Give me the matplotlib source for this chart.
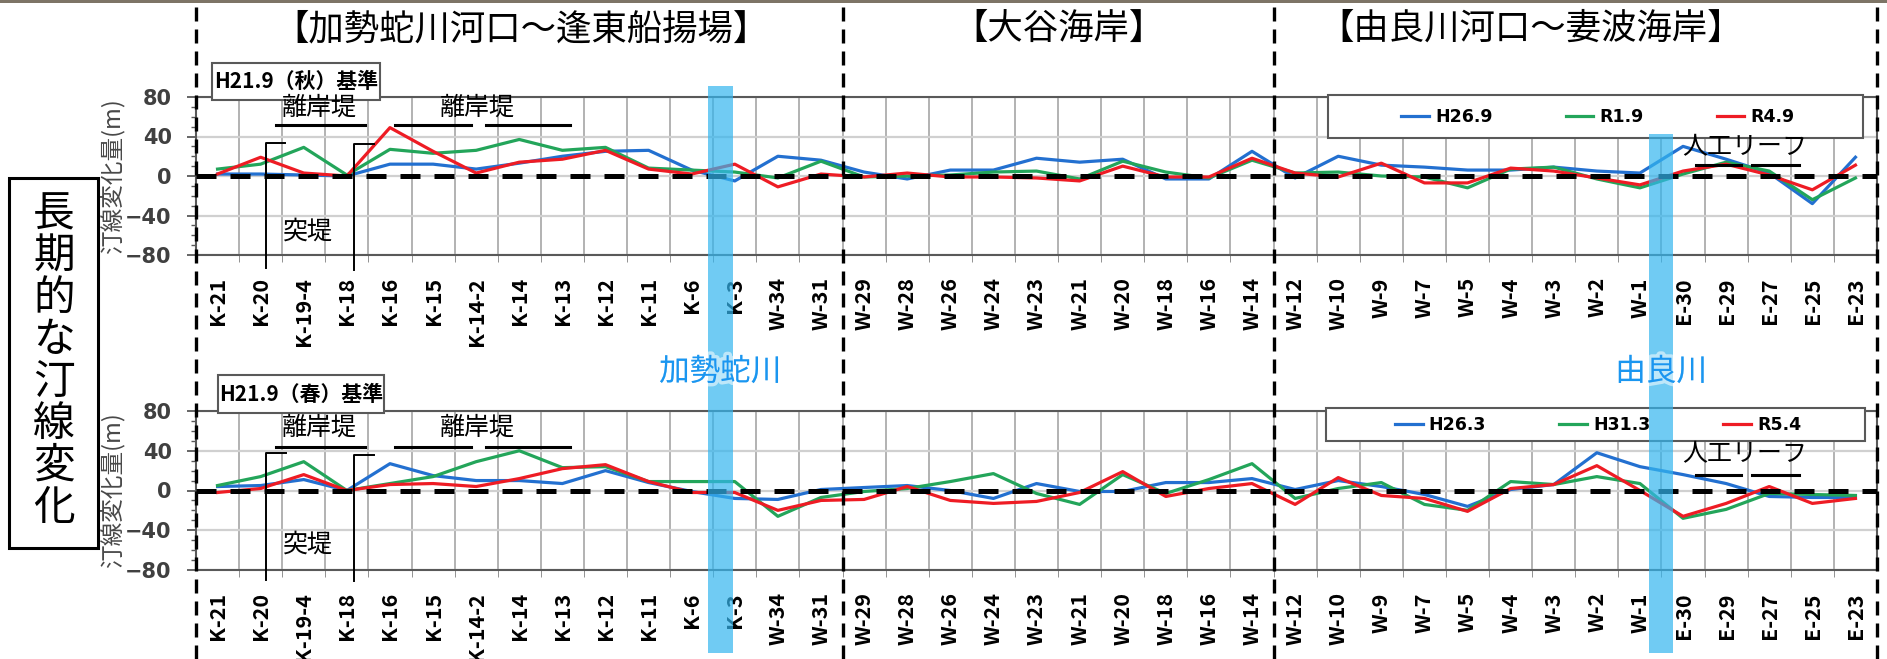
import numpy as np
import matplotlib.pyplot as plt
import matplotlib.patheffects as pe
from matplotlib import transforms
from matplotlib.lines import Line2D
from matplotlib.patches import Rectangle

plt.rcParams['font.family'] = ['Noto Sans CJK JP', 'DejaVu Sans']

# 測線名
points = ['K-21', 'K-20', 'K-19-4', 'K-18', 'K-16', 'K-15', 'K-14-2', 'K-14', 'K-13',
          'K-12', 'K-11', 'K-6', 'K-3', 'W-34', 'W-31', 'W-29', 'W-28', 'W-26', 'W-24',
          'W-23', 'W-21', 'W-20', 'W-18', 'W-16', 'W-14', 'W-12', 'W-10', 'W-9', 'W-7',
          'W-5', 'W-4', 'W-3', 'W-2', 'W-1', 'E-30', 'E-29', 'E-27', 'E-25', 'E-23']

# 秋基準 (H21.9)
aki_labels = ['H26.9', 'R1.9', 'R4.9']
aki_h26 = [2, 2, 1, 0, 12, 12, 7, 13, 20, 25, 26, 6, -5, 20, 16, 4, -3, 6, 6, 18,
           14, 17, -3, -3, 25, -2, 20, 11, 9, 6, 6, 9, 5, 3, 30, 17, 3, -28, 19]
aki_r1 = [7, 12, 29, 1, 27, 23, 26, 37, 26, 29, 8, 6, 4, -2, 15, -1, 0, 1, 4, 5,
          -3, 15, 4, -2, 16, 3, 4, 0, -1, -12, 7, 9, -3, -12, 2, 14, 5, -24, -2]
aki_r4 = [2, 19, 3, 0, 49, 25, 3, 14, 17, 26, 7, 2, 12, -11, 2, -1, 3, -1, -1, -2,
          -5, 10, -1, -1, 18, 3, -1, 13, -7, -7, 8, 5, -2, -9, 5, 12, 1, -14, 11]

# 春基準 (H21.9)
haru_labels = ['H26.3', 'H31.3', 'R5.4']
haru_h26 = [4, 5, 11, 0, 27, 15, 10, 10, 7, 20, 8, -1, -8, -9, 1, 3, 5, 0, -8, 7,
            -1, -1, 8, 8, 12, 1, 10, 4, -4, -16, 1, 6, 38, 24, 16, 7, -6, -7, -7]
haru_h31 = [5, 14, 29, 0, 7, 14, 29, 40, 23, 24, 9, 9, 9, -26, -7, -1, 2, 9, 17, -3,
            -14, 16, -3, 11, 27, -8, 2, 8, -14, -20, 9, 6, 14, 7, -28, -19, -3, -4, -5]
haru_r5 = [-2, 2, 16, 0, 6, 7, 4, 12, 22, 26, 9, -2, -2, -20, -10, -9, 4, -10, -13, -11,
           -2, 19, -6, 2, 7, -14, 13, -5, -8, -21, 2, 6, 25, 0, -26, -13, 4, -13, -8]

colors = ['#2370d0', '#23a55a', '#ee1c24']

W, H = 1887, 659
fig = plt.figure(figsize=(W / 100, H / 100), dpi=100)


def fx(px):
    return px / W


def fy(py):
    return 1 - py / H


ax_top = fig.add_axes([fx(196), fy(255), (1877 - 196) / W, 158 / H])
ax_bot = fig.add_axes([fx(196), fy(570), (1877 - 196) / W, 159 / H])


def draw_panel(ax, series, labels, base_text, base_box, leg_xy, ann):
    x = np.arange(len(points))
    for vals, lab, col in zip(series, labels, colors):
        ax.plot(x, vals, color=col, lw=2.3, label=lab, zorder=3)
    ax.axhline(0, color='black', lw=3.6, ls=(0, (4, 2.8)), zorder=4)

    ax.set_xlim(-0.5, len(points) - 0.5)
    ax.set_ylim(-80, 80)
    ax.set_yticks([-80, -40, 0, 40, 80])
    ax.set_yticks(np.arange(-80, 81, 10), minor=True)
    ax.set_xticks(x)
    ax.set_xticklabels(points, rotation=90, fontsize=15.5, fontweight='bold')
    ax.set_xticks(x[:-1] + 0.5, minor=True)
    ax.grid(which='minor', axis='x', color='#a6a6a6', lw=1.2)
    ax.grid(which='major', axis='y', color='#d0d0d0', lw=1.6)
    ax.tick_params(axis='x', which='major', length=0, pad=16)
    ax.tick_params(axis='x', which='minor', length=5, color='#808080')
    ax.tick_params(axis='y', which='major', length=6.5, width=1.3, color='#595959',
                   pad=11, labelsize=15, labelcolor='#404040')
    ax.tick_params(axis='y', which='minor', length=3.5, width=1, color='#595959')
    for t in ax.get_yticklabels():
        t.set_fontfamily('DejaVu Sans')
        t.set_fontweight('bold')
    for s in ax.spines.values():
        s.set_color('#595959')
        s.set_linewidth(1.5)

    ax.set_ylabel('汀線変化量(m)', fontsize=17, color='#484848', va='center')
    ax.yaxis.set_label_coords(-0.050, 0.5)

    # 基準時期の枠
    bx0, by0, bx1, by1 = base_box
    ax.add_patch(Rectangle((bx0, by0), bx1 - bx0, by1 - by0, transform=ax.transAxes,
                           fc='white', ec='#595959', lw=1.5, clip_on=False, zorder=6))
    ax.text((bx0 + bx1) / 2, (by0 + by1) / 2, base_text, transform=ax.transAxes,
            ha='center', va='center', fontsize=15, fontweight='bold', zorder=7)

    # 凡例
    lx0, ly0, lx1, ly1 = leg_xy[0]
    ax.add_patch(Rectangle((lx0, ly0), lx1 - lx0, ly1 - ly0, transform=ax.transAxes,
                           fc='white', ec='#595959', lw=1.5, clip_on=False, zorder=5))
    leg = ax.legend(loc='center', bbox_to_anchor=leg_xy[1], ncol=3, frameon=False,
                    handlelength=1.6, handletextpad=0.35, columnspacing=4.2,
                    borderaxespad=0,
                    prop={'family': 'DejaVu Sans', 'weight': 'bold', 'size': 12.5})
    leg.set_zorder(6)

    # 構造物の注記
    for tx, ty in ann['rigan']:
        ax.text(tx, ty, '離岸堤', ha='center', va='center', fontsize=18, zorder=6)
    for u0, u1 in [(1.36, 3.42), (4.12, 5.88), (6.23, 8.18)]:
        ax.plot([u0, u1], [ann['rigan_line']] * 2, color='black', lw=2.2, zorder=6)
    ax.text(2.1, ann['totei'], '突堤', ha='center', va='center', fontsize=18, zorder=6)
    for vx, hx, top, bot in ann['groins']:
        ax.plot([hx, vx, vx], [top, top, bot], color='black', lw=1.4,
                clip_on=False, zorder=6)
    ax.text(35.44, ann['reef'], '人工リーフ', ha='center', va='center',
            fontsize=18, zorder=6)
    for u0, u1 in [(34.3, 35.35), (35.6, 36.7)]:
        ax.plot([u0, u1], [ann['reef_line']] * 2, color='black', lw=2.2, zorder=6)


draw_panel(ax_top, [aki_h26, aki_r1, aki_r4], aki_labels, 'H21.9（秋）基準',
           (0.0095, 0.981, 0.1095, 1.215),
           ((0.6734, 0.7405, 0.9917, 1.0127), (0.834, 0.873)),
           {'rigan': [(2.37, 68.9), (6.02, 68.9)], 'rigan_line': 52.0,
            'totei': -56.7,
            'groins': [(1.12, 1.56, 33.8, -93), (3.17, 3.63, 32.4, -95)],
            'reef': 29.4, 'reef_line': 11.1})

draw_panel(ax_bot, [haru_h26, haru_h31, haru_r5], haru_labels, 'H21.9（春）基準',
           (0.0131, 0.987, 0.1118, 1.226),
           ((0.6722, 0.811, 0.9929, 1.019), (0.834, 0.912)),
           {'rigan': [(2.37, 62.9), (6.02, 62.9)], 'rigan_line': 43.8,
            'totei': -54.8,
            'groins': [(1.12, 1.59, 37.3, -90), (3.17, 3.63, 36.0, -91)],
            'reef': 36.7, 'reef_line': 15.6})

trans = transforms.blended_transform_factory(ax_top.transData, fig.transFigure)

# 河口位置の帯
fig.add_artist(Rectangle((11.66 - 0.29, fy(653)), 0.58, fy(86) - fy(653), transform=trans,
                         fc='#33b5ee', alpha=0.7, lw=0, zorder=8))
fig.add_artist(Rectangle((33.49 - 0.27, fy(653)), 0.54, fy(134) - fy(653), transform=trans,
                         fc='#33b5ee', alpha=0.7, lw=0, zorder=8))
halo = [pe.withStroke(linewidth=5, foreground=(1, 1, 1, 0.55))]
fig.text(11.66, fy(372), '加勢蛇川', transform=trans, ha='center', va='center',
         fontsize=22, color='#1a96f0', path_effects=halo, zorder=9)
fig.text(33.49, fy(372), '由良川', transform=trans, ha='center', va='center',
         fontsize=22, color='#1a96f0', path_effects=halo, zorder=9)

# 区間の境界
for xb in [-0.5, 14.5, 24.5, 38.5]:
    fig.add_artist(Line2D([xb, xb], [0, 1], transform=trans, color='black', lw=2.4,
                          ls=(0, (4.2, 2.4)), zorder=10))

fig.text(fx(521), fy(29), '【加勢蛇川河口～逢東船揚場】', ha='center', va='center', fontsize=25.5)
fig.text(fx(1059), fy(29), '【大谷海岸】', ha='center', va='center', fontsize=25.5)
fig.text(fx(1531), fy(29), '【由良川河口～妻波海岸】', ha='center', va='center', fontsize=25.5)

# 左側の見出し
fig.add_artist(Rectangle((fx(9), fy(548)), fx(98) - fx(9), fy(178) - fy(548),
                         transform=fig.transFigure, fill=False, ec='black', lw=2.2))
for k, ch in enumerate('長期的な汀線変化'):
    fig.text(fx(54), fy(215 + k * 41.9), ch, ha='center', va='center', fontsize=30)

fig.add_artist(Rectangle((0, fy(3)), 1, 3 / H, transform=fig.transFigure,
                         fc='#7d7466', lw=0, zorder=11))

fig.savefig('out.png', dpi=100)
